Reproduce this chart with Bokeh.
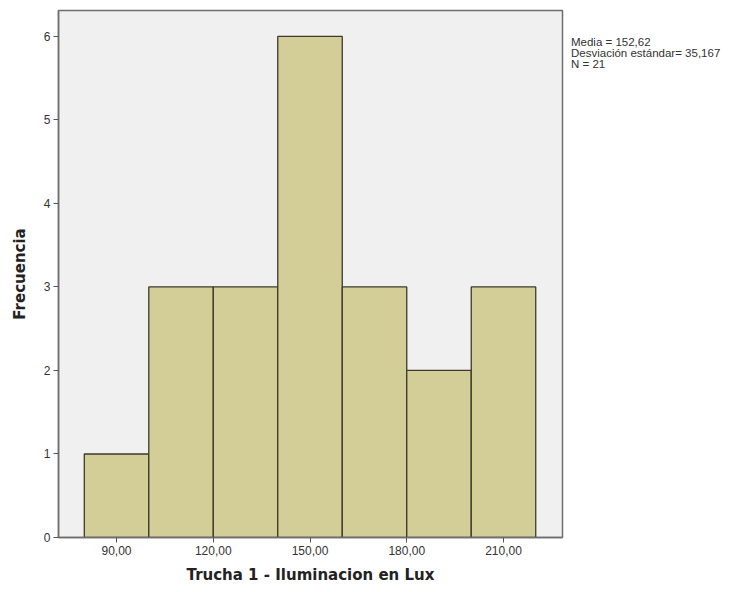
from bokeh.plotting import figure
from bokeh.models import FixedTicker, Range1d, Div
from bokeh.layouts import row
from bokeh.embed import file_html
from bokeh.resources import INLINE

bin_left = [80, 100, 120, 140, 160, 180, 200]
bin_right = [100, 120, 140, 160, 180, 200, 220]
counts = [1, 3, 3, 6, 3, 2, 3]
x_ticks = [90, 120, 150, 180, 210]
x_tick_labels = {90: "90,00", 120: "120,00", 150: "150,00", 180: "180,00", 210: "210,00"}
y_ticks = [0, 1, 2, 3, 4, 5, 6]
stats_lines = ["Media = 152,62", "Desviación estándar= 35,167", "N = 21"]

FONT = "Liberation Sans"
LABEL_FONT = "DejaVu Sans"

p = figure(width=566, height=590, output_backend="svg", toolbar_location=None,
           x_range=Range1d(72, 228.3), y_range=Range1d(0, 6.31),
           min_border_left=58, min_border_top=10, min_border_right=4, min_border_bottom=53)

p.background_fill_color = "#f0f0f0"
p.border_fill_color = "white"
p.outline_line_color = "#6e6e6e"
p.outline_line_width = 1.5
p.grid.visible = False

p.quad(left=bin_left, right=bin_right, bottom=0, top=counts,
       fill_color="#d3ce98", line_color="#3c3a2a", line_width=1.3)

p.xaxis.ticker = FixedTicker(ticks=x_ticks)
p.xaxis.major_label_overrides = x_tick_labels
p.yaxis.ticker = FixedTicker(ticks=y_ticks)
for ax in (p.xaxis[0], p.yaxis[0]):
    ax.axis_line_color = "#6e6e6e"
    ax.axis_line_width = 1.5
    ax.major_tick_line_color = "#555555"
    ax.major_tick_out = 5
    ax.major_tick_in = 0
    ax.minor_tick_line_color = None
    ax.major_label_text_font = FONT
    ax.major_label_text_font_size = "12px"
    ax.major_label_text_color = "#333333"
    ax.axis_label_text_font = LABEL_FONT
    ax.axis_label_text_font_style = "bold"
    ax.axis_label_text_font_size = "15px"
    ax.axis_label_text_color = "#222222"

p.xaxis.axis_label = "Trucha 1 - Iluminacion en Lux"
p.yaxis.axis_label = "Frecuencia"
p.xaxis.major_label_standoff = 3
p.xaxis.axis_label_standoff = 8
p.yaxis.major_label_standoff = 3
p.yaxis.axis_label_standoff = 12

stats_html = "<br>".join(stats_lines)
div = Div(text=stats_html, width=173, height=90,
          styles={"font-family": FONT, "font-size": "11.5px", "line-height": "11px",
                  "color": "#333333", "padding-top": "32px", "padding-left": "0px",
                  "white-space": "nowrap"})

layout = row(p, div)
open("out.html", "w").write(file_html(layout, INLINE))
